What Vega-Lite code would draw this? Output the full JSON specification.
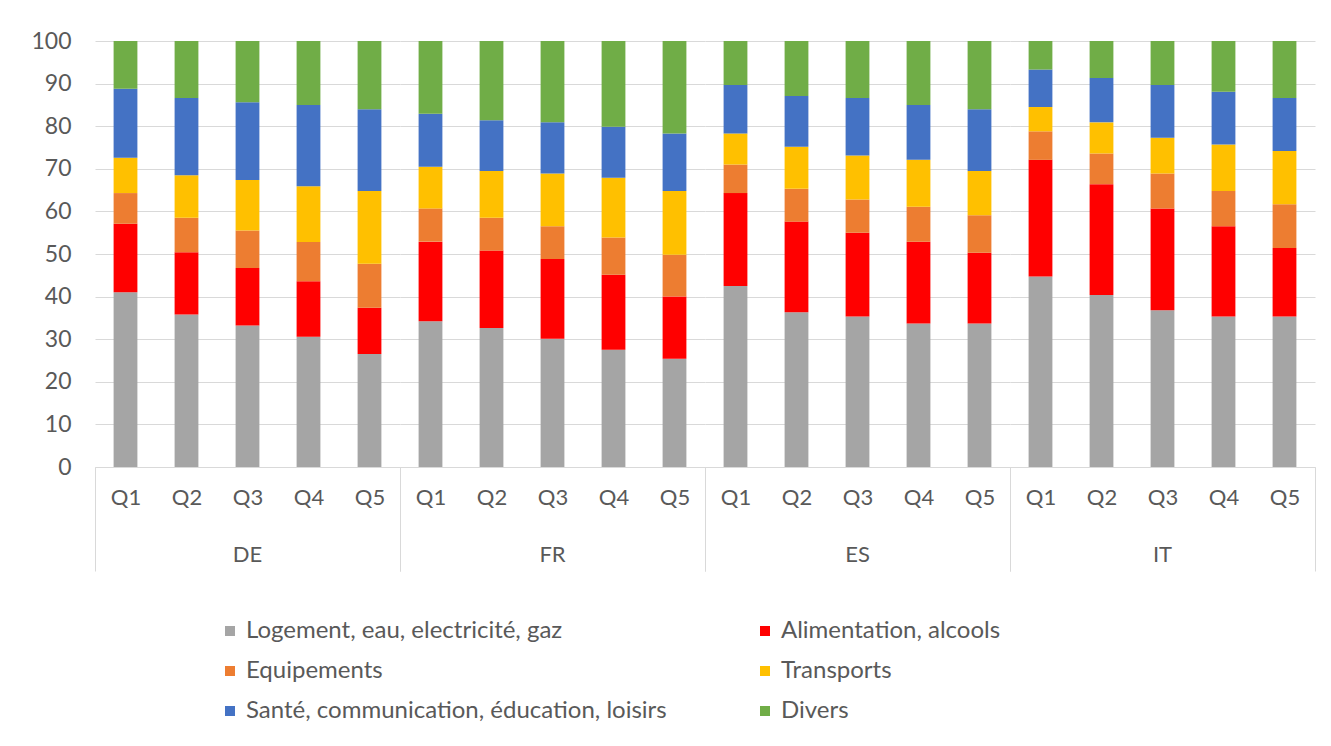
{
  "$schema": "https://vega.github.io/schema/vega-lite/v6.json",
  "background": "white",
  "padding": {"left": 30, "top": 30, "right": 14, "bottom": 10},
  "data": {"values": [
    {"pays":"DE","quintile":"Q1","poste":"Logement, eau, electricité, gaz","part":41.0},
    {"pays":"DE","quintile":"Q1","poste":"Alimentation, alcools","part":16.1},
    {"pays":"DE","quintile":"Q1","poste":"Equipements","part":7.2},
    {"pays":"DE","quintile":"Q1","poste":"Transports","part":8.3},
    {"pays":"DE","quintile":"Q1","poste":"Santé, communication, éducation, loisirs","part":16.2},
    {"pays":"DE","quintile":"Q1","poste":"Divers","part":11.2},
    {"pays":"DE","quintile":"Q2","poste":"Logement, eau, electricité, gaz","part":35.8},
    {"pays":"DE","quintile":"Q2","poste":"Alimentation, alcools","part":14.6},
    {"pays":"DE","quintile":"Q2","poste":"Equipements","part":8.1},
    {"pays":"DE","quintile":"Q2","poste":"Transports","part":10.0},
    {"pays":"DE","quintile":"Q2","poste":"Santé, communication, éducation, loisirs","part":18.1},
    {"pays":"DE","quintile":"Q2","poste":"Divers","part":13.4},
    {"pays":"DE","quintile":"Q3","poste":"Logement, eau, electricité, gaz","part":33.2},
    {"pays":"DE","quintile":"Q3","poste":"Alimentation, alcools","part":13.5},
    {"pays":"DE","quintile":"Q3","poste":"Equipements","part":8.8},
    {"pays":"DE","quintile":"Q3","poste":"Transports","part":11.9},
    {"pays":"DE","quintile":"Q3","poste":"Santé, communication, éducation, loisirs","part":18.2},
    {"pays":"DE","quintile":"Q3","poste":"Divers","part":14.4},
    {"pays":"DE","quintile":"Q4","poste":"Logement, eau, electricité, gaz","part":30.6},
    {"pays":"DE","quintile":"Q4","poste":"Alimentation, alcools","part":13.0},
    {"pays":"DE","quintile":"Q4","poste":"Equipements","part":9.2},
    {"pays":"DE","quintile":"Q4","poste":"Transports","part":13.1},
    {"pays":"DE","quintile":"Q4","poste":"Santé, communication, éducation, loisirs","part":19.1},
    {"pays":"DE","quintile":"Q4","poste":"Divers","part":15.0},
    {"pays":"DE","quintile":"Q5","poste":"Logement, eau, electricité, gaz","part":26.5},
    {"pays":"DE","quintile":"Q5","poste":"Alimentation, alcools","part":10.9},
    {"pays":"DE","quintile":"Q5","poste":"Equipements","part":10.3},
    {"pays":"DE","quintile":"Q5","poste":"Transports","part":17.1},
    {"pays":"DE","quintile":"Q5","poste":"Santé, communication, éducation, loisirs","part":19.2},
    {"pays":"DE","quintile":"Q5","poste":"Divers","part":16.0},
    {"pays":"FR","quintile":"Q1","poste":"Logement, eau, electricité, gaz","part":34.2},
    {"pays":"FR","quintile":"Q1","poste":"Alimentation, alcools","part":18.7},
    {"pays":"FR","quintile":"Q1","poste":"Equipements","part":7.8},
    {"pays":"FR","quintile":"Q1","poste":"Transports","part":9.8},
    {"pays":"FR","quintile":"Q1","poste":"Santé, communication, éducation, loisirs","part":12.4},
    {"pays":"FR","quintile":"Q1","poste":"Divers","part":17.1},
    {"pays":"FR","quintile":"Q2","poste":"Logement, eau, electricité, gaz","part":32.6},
    {"pays":"FR","quintile":"Q2","poste":"Alimentation, alcools","part":18.2},
    {"pays":"FR","quintile":"Q2","poste":"Equipements","part":7.7},
    {"pays":"FR","quintile":"Q2","poste":"Transports","part":11.0},
    {"pays":"FR","quintile":"Q2","poste":"Santé, communication, éducation, loisirs","part":11.9},
    {"pays":"FR","quintile":"Q2","poste":"Divers","part":18.6},
    {"pays":"FR","quintile":"Q3","poste":"Logement, eau, electricité, gaz","part":30.1},
    {"pays":"FR","quintile":"Q3","poste":"Alimentation, alcools","part":18.7},
    {"pays":"FR","quintile":"Q3","poste":"Equipements","part":7.7},
    {"pays":"FR","quintile":"Q3","poste":"Transports","part":12.4},
    {"pays":"FR","quintile":"Q3","poste":"Santé, communication, éducation, loisirs","part":12.0},
    {"pays":"FR","quintile":"Q3","poste":"Divers","part":19.1},
    {"pays":"FR","quintile":"Q4","poste":"Logement, eau, electricité, gaz","part":27.5},
    {"pays":"FR","quintile":"Q4","poste":"Alimentation, alcools","part":17.6},
    {"pays":"FR","quintile":"Q4","poste":"Equipements","part":8.8},
    {"pays":"FR","quintile":"Q4","poste":"Transports","part":14.0},
    {"pays":"FR","quintile":"Q4","poste":"Santé, communication, éducation, loisirs","part":12.0},
    {"pays":"FR","quintile":"Q4","poste":"Divers","part":20.1},
    {"pays":"FR","quintile":"Q5","poste":"Logement, eau, electricité, gaz","part":25.4},
    {"pays":"FR","quintile":"Q5","poste":"Alimentation, alcools","part":14.6},
    {"pays":"FR","quintile":"Q5","poste":"Equipements","part":9.8},
    {"pays":"FR","quintile":"Q5","poste":"Transports","part":15.0},
    {"pays":"FR","quintile":"Q5","poste":"Santé, communication, éducation, loisirs","part":13.5},
    {"pays":"FR","quintile":"Q5","poste":"Divers","part":21.7},
    {"pays":"ES","quintile":"Q1","poste":"Logement, eau, electricité, gaz","part":42.5},
    {"pays":"ES","quintile":"Q1","poste":"Alimentation, alcools","part":21.8},
    {"pays":"ES","quintile":"Q1","poste":"Equipements","part":6.7},
    {"pays":"ES","quintile":"Q1","poste":"Transports","part":7.3},
    {"pays":"ES","quintile":"Q1","poste":"Santé, communication, éducation, loisirs","part":11.4},
    {"pays":"ES","quintile":"Q1","poste":"Divers","part":10.3},
    {"pays":"ES","quintile":"Q2","poste":"Logement, eau, electricité, gaz","part":36.3},
    {"pays":"ES","quintile":"Q2","poste":"Alimentation, alcools","part":21.3},
    {"pays":"ES","quintile":"Q2","poste":"Equipements","part":7.7},
    {"pays":"ES","quintile":"Q2","poste":"Transports","part":9.9},
    {"pays":"ES","quintile":"Q2","poste":"Santé, communication, éducation, loisirs","part":11.9},
    {"pays":"ES","quintile":"Q2","poste":"Divers","part":12.9},
    {"pays":"ES","quintile":"Q3","poste":"Logement, eau, electricité, gaz","part":35.3},
    {"pays":"ES","quintile":"Q3","poste":"Alimentation, alcools","part":19.7},
    {"pays":"ES","quintile":"Q3","poste":"Equipements","part":7.8},
    {"pays":"ES","quintile":"Q3","poste":"Transports","part":10.3},
    {"pays":"ES","quintile":"Q3","poste":"Santé, communication, éducation, loisirs","part":13.5},
    {"pays":"ES","quintile":"Q3","poste":"Divers","part":13.4},
    {"pays":"ES","quintile":"Q4","poste":"Logement, eau, electricité, gaz","part":33.7},
    {"pays":"ES","quintile":"Q4","poste":"Alimentation, alcools","part":19.2},
    {"pays":"ES","quintile":"Q4","poste":"Equipements","part":8.2},
    {"pays":"ES","quintile":"Q4","poste":"Transports","part":11.0},
    {"pays":"ES","quintile":"Q4","poste":"Santé, communication, éducation, loisirs","part":12.9},
    {"pays":"ES","quintile":"Q4","poste":"Divers","part":15.0},
    {"pays":"ES","quintile":"Q5","poste":"Logement, eau, electricité, gaz","part":33.7},
    {"pays":"ES","quintile":"Q5","poste":"Alimentation, alcools","part":16.6},
    {"pays":"ES","quintile":"Q5","poste":"Equipements","part":8.8},
    {"pays":"ES","quintile":"Q5","poste":"Transports","part":10.4},
    {"pays":"ES","quintile":"Q5","poste":"Santé, communication, éducation, loisirs","part":14.5},
    {"pays":"ES","quintile":"Q5","poste":"Divers","part":16.0},
    {"pays":"IT","quintile":"Q1","poste":"Logement, eau, electricité, gaz","part":44.7},
    {"pays":"IT","quintile":"Q1","poste":"Alimentation, alcools","part":27.4},
    {"pays":"IT","quintile":"Q1","poste":"Equipements","part":6.7},
    {"pays":"IT","quintile":"Q1","poste":"Transports","part":5.7},
    {"pays":"IT","quintile":"Q1","poste":"Santé, communication, éducation, loisirs","part":8.8},
    {"pays":"IT","quintile":"Q1","poste":"Divers","part":6.7},
    {"pays":"IT","quintile":"Q2","poste":"Logement, eau, electricité, gaz","part":40.4},
    {"pays":"IT","quintile":"Q2","poste":"Alimentation, alcools","part":26.0},
    {"pays":"IT","quintile":"Q2","poste":"Equipements","part":7.2},
    {"pays":"IT","quintile":"Q2","poste":"Transports","part":7.3},
    {"pays":"IT","quintile":"Q2","poste":"Santé, communication, éducation, loisirs","part":10.4},
    {"pays":"IT","quintile":"Q2","poste":"Divers","part":8.7},
    {"pays":"IT","quintile":"Q3","poste":"Logement, eau, electricité, gaz","part":36.8},
    {"pays":"IT","quintile":"Q3","poste":"Alimentation, alcools","part":23.9},
    {"pays":"IT","quintile":"Q3","poste":"Equipements","part":8.2},
    {"pays":"IT","quintile":"Q3","poste":"Transports","part":8.4},
    {"pays":"IT","quintile":"Q3","poste":"Santé, communication, éducation, loisirs","part":12.4},
    {"pays":"IT","quintile":"Q3","poste":"Divers","part":10.3},
    {"pays":"IT","quintile":"Q4","poste":"Logement, eau, electricité, gaz","part":35.3},
    {"pays":"IT","quintile":"Q4","poste":"Alimentation, alcools","part":21.2},
    {"pays":"IT","quintile":"Q4","poste":"Equipements","part":8.3},
    {"pays":"IT","quintile":"Q4","poste":"Transports","part":10.9},
    {"pays":"IT","quintile":"Q4","poste":"Santé, communication, éducation, loisirs","part":12.4},
    {"pays":"IT","quintile":"Q4","poste":"Divers","part":11.9},
    {"pays":"IT","quintile":"Q5","poste":"Logement, eau, electricité, gaz","part":35.3},
    {"pays":"IT","quintile":"Q5","poste":"Alimentation, alcools","part":16.1},
    {"pays":"IT","quintile":"Q5","poste":"Equipements","part":10.3},
    {"pays":"IT","quintile":"Q5","poste":"Transports","part":12.5},
    {"pays":"IT","quintile":"Q5","poste":"Santé, communication, éducation, loisirs","part":12.4},
    {"pays":"IT","quintile":"Q5","poste":"Divers","part":13.4}
  ]},
  "facet": {
    "column": {
      "field": "pays", "type": "nominal", "sort": ["DE", "FR", "ES", "IT"],
      "header": {"title": null, "labelOrient": "bottom", "labelPadding": -27, "labelFont": "Lato", "labelFontSize": 22, "labelColor": "#595959"}
    }
  },
  "spacing": 0,
  "spec": {
    "width": 305,
    "height": 426,
    "transform": [
      {"calculate": "indexof(['Logement, eau, electricité, gaz', 'Alimentation, alcools', 'Equipements', 'Transports', 'Santé, communication, éducation, loisirs', 'Divers'], datum.poste)", "as": "rang"}
    ],
    "mark": {"type": "bar", "width": {"band": 0.39}},
    "encoding": {
      "x": {
        "field": "quintile", "type": "nominal",
        "scale": {"paddingInner": 0, "paddingOuter": 0},
        "axis": {
          "title": null, "labelAngle": 0, "grid": false,
          "domain": true, "domainColor": "#d9d9d9", "domainWidth": 1,
          "ticks": true, "tickBand": "extent", "tickSize": 104, "tickWidth": 1,
          "tickColor": {"condition": {"test": "datum.value === 'Q5' || datum.index < 0", "value": "#d9d9d9"}, "value": "rgba(0,0,0,0)"},
          "labelPadding": -84, "labelFont": "Lato", "labelFontSize": 22, "labelColor": "#595959"
        }
      },
      "y": {
        "field": "part", "type": "quantitative", "stack": "zero",
        "scale": {"domain": [0, 100], "nice": false},
        "axis": {
          "title": null, "values": [0, 10, 20, 30, 40, 50, 60, 70, 80, 90, 100],
          "domain": false, "ticks": false, "grid": true, "gridColor": "#d9d9d9", "gridWidth": 1,
          "labelPadding": 24, "labelFont": "Lato", "labelFontSize": 23, "labelColor": "#595959"
        }
      },
      "order": {"field": "rang", "type": "quantitative", "sort": "ascending"},
      "color": {
        "field": "poste", "type": "nominal",
        "sort": ["Logement, eau, electricité, gaz", "Alimentation, alcools", "Equipements", "Transports", "Santé, communication, éducation, loisirs", "Divers"],
        "scale": {
          "domain": ["Logement, eau, electricité, gaz", "Alimentation, alcools", "Equipements", "Transports", "Santé, communication, éducation, loisirs", "Divers"],
          "range": ["#A5A5A5", "#FF0000", "#ED7D31", "#FFC000", "#4472C4", "#70AD47"]
        },
        "legend": {
          "title": null, "orient": "none", "legendX": 123, "legendY": 578,
          "direction": "horizontal", "columns": 2,
          "columnPadding": 86, "rowPadding": 16,
          "symbolType": "square", "symbolSize": 100, "symbolStrokeWidth": 0,
          "labelFont": "Lato", "labelFontSize": 24, "labelColor": "#595959", "labelLimit": 600
        }
      }
    }
  },
  "config": {"view": {"stroke": null}}
}
